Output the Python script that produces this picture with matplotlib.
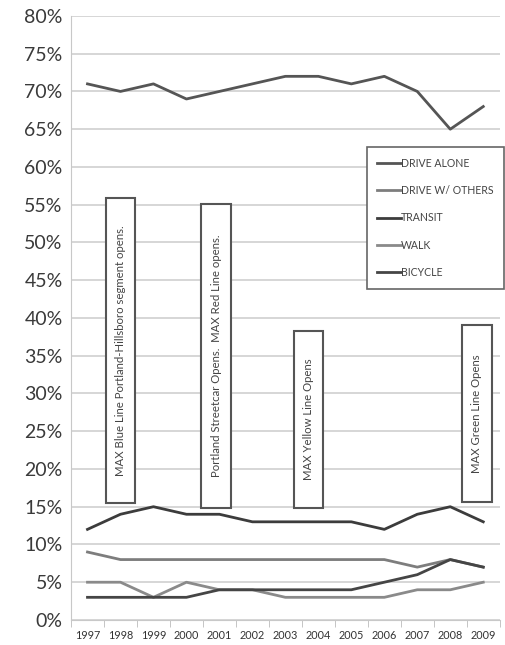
import matplotlib
matplotlib.use("Agg")
import matplotlib.pyplot as plt
from matplotlib.patches import Rectangle
from matplotlib.ticker import FuncFormatter, FixedLocator

# data (percent of commute trips)
years = ["1997", "1998", "1999", "2000", "2001", "2002", "2003",
         "2004", "2005", "2006", "2007", "2008", "2009"]
drive_alone = [71, 70, 71, 69, 70, 71, 72, 72, 71, 72, 70, 65, 68]
drive_others = [9, 8, 8, 8, 8, 8, 8, 8, 8, 8, 7, 8, 7]
transit = [12, 14, 15, 14, 14, 13, 13, 13, 13, 12, 14, 15, 13]
walk = [5, 5, 3, 5, 4, 4, 3, 3, 3, 3, 4, 4, 5]
bicycle = [3, 3, 3, 3, 4, 4, 4, 4, 4, 5, 6, 8, 7]

series_names = ["DRIVE ALONE", "DRIVE W/ OTHERS", "TRANSIT", "WALK", "BICYCLE"]
series_colors = ["#555555", "#7d7d7d", "#3c3c3c", "#8a8a8a", "#454545"]

# event boxes: text, x centre (category index), bottom %, top %
events = ["MAX Blue Line Portland-Hillsboro segment opens.",
          "Portland Streetcar Opens.  MAX Red Line opens.",
          "MAX Yellow Line Opens",
          "MAX Green Line Opens"]
event_x = [1.0, 3.9, 6.7, 11.8]
event_lo = [15.5, 14.8, 14.8, 15.6]
event_hi = [55.9, 55.1, 38.3, 39.1]

plt.rcParams['font.family'] = ['Lato', 'DejaVu Sans']

fig = plt.figure(figsize=(5.05, 6.45), dpi=100)
ax = fig.add_axes([0.1406, 0.0388, 0.849, 0.9365])

x = list(range(len(years)))
for vals, name, col in zip([drive_alone, drive_others, transit, walk, bicycle],
                           series_names, series_colors):
    ax.plot(x, vals, color=col, lw=2.0, label=name, zorder=3)

ax.set_xlim(-0.5, len(years) - 0.5)
ax.set_ylim(0, 80)
ax.set_yticks(range(0, 81, 5))
ax.yaxis.set_major_formatter(FuncFormatter(lambda v, p: "%d%%" % v))
ax.grid(axis='y', color='#cfcfcf', lw=1.2)
ax.set_axisbelow(True)

ax.set_xticks(x)
ax.set_xticklabels(years, fontsize=7.8, color='#333333')
ax.xaxis.set_minor_locator(FixedLocator([i - 0.5 for i in range(len(years) + 1)]))
ax.tick_params(axis='x', which='major', length=0, pad=7)
ax.tick_params(axis='x', which='minor', length=5, color='#bbbbbb')
ax.tick_params(axis='y', length=0, labelsize=14, colors='#3a3a3a', pad=6)

for s in ['top', 'right']:
    ax.spines[s].set_visible(False)
ax.spines['left'].set_color('#c8c8c8')
ax.spines['bottom'].set_color('#c8c8c8')

for txt, cx, lo, hi in zip(events, event_x, event_lo, event_hi):
    ax.add_patch(Rectangle((cx - 0.45, lo), 0.9, hi - lo, facecolor='white',
                           edgecolor='#555555', lw=1.5, zorder=4))
    ax.text(cx, (lo + hi) / 2, txt, rotation=90, ha='center', va='center',
            fontsize=8.2, color='#444444', zorder=5)

leg = ax.legend(loc='upper left', bbox_to_anchor=(0.69, 0.783), fontsize=7.6,
                handlelength=2.2, labelspacing=1.55, borderpad=1.0,
                handletextpad=0.05, borderaxespad=0, fancybox=False,
                framealpha=1, edgecolor='#666666')
leg.get_frame().set_linewidth(1.2)
for t in leg.get_texts():
    t.set_color('#444444')

fig.savefig("out.png", dpi=100)
